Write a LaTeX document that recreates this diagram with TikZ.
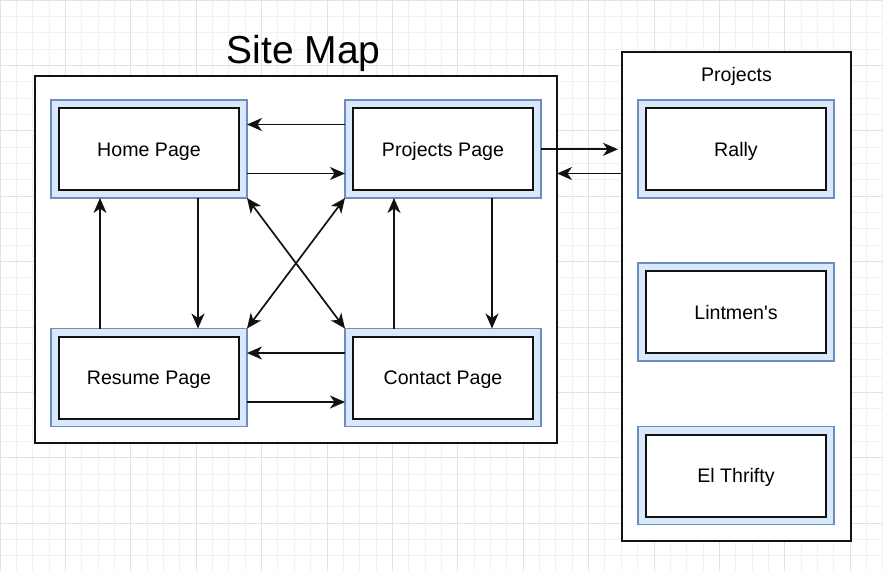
\documentclass[tikz,border=0pt]{standalone}
\usepackage{fontspec}
\setmainfont{Liberation Sans}[Ligatures=TeXOff]
\usetikzlibrary{arrows.meta,calc}
\definecolor{bfill}{HTML}{DAE8FC}
\definecolor{bdraw}{HTML}{6C8EBF}
\definecolor{gminor}{HTML}{F1F1F1}
\definecolor{gmajor}{HTML}{E2E2E2}
\definecolor{ink}{HTML}{111111}
\begin{document}
\begin{tikzpicture}[x=1pt,y=-1pt,
  >={Stealth[length=15pt,width=13pt,inset=4.5pt]},
  frame/.style={draw=bdraw, fill=bfill, line width=1.6pt, minimum width=196pt, minimum height=98pt, inner sep=0pt, outer sep=0pt},
  pagebox/.style={draw=ink, fill=white, line width=2pt, minimum width=180pt, minimum height=82pt, inner sep=0pt, outer sep=0pt, text height=14.1pt, text depth=0pt, font=\fontsize{19.6}{23}\selectfont},
  container/.style={draw=ink, fill=white, line width=2pt, inner sep=0pt, outer sep=0pt},
  conn/.style={draw=ink, line width=1.7pt, ->},
  bconn/.style={draw=ink, line width=1.7pt, <->},
]
\useasboundingbox (0,0) rectangle (883,571);
% background grid
\foreach \i in {0,...,54} {\draw[gminor, line width=1pt] (\i*16.35,0) -- (\i*16.35,571);}
\foreach \j in {0,...,35} {\draw[gminor, line width=1pt] (0,\j*16.35) -- (883,\j*16.35);}
\foreach \i in {0,...,13} {\draw[gmajor, line width=1pt] (\i*65.4,0) -- (\i*65.4,571);}
\foreach \j in {0,...,8} {\draw[gmajor, line width=1pt] (0,\j*65.4) -- (883,\j*65.4);}

% containers
\node[container, minimum width=522pt, minimum height=367pt] (site) at (296,259.5) {};
\node[container, minimum width=229pt, minimum height=489pt] (grp) at (736.5,296.5) {};
\node[font=\fontsize{39}{45}\selectfont, anchor=base, inner sep=0pt] (title) at (303.5,63.5) {Site Map};
\node[font=\fontsize{19.6}{23}\selectfont, anchor=base, inner sep=0pt] (plabel) at (736.5,81) {Projects};

% pages
\node[frame] (home) at (149,149) {};
\node[pagebox] (homet) at (home) {Home Page};
\node[frame] (proj) at (443,149) {};
\node[pagebox] (projt) at (proj) {Projects Page};
\node[frame] (resume) at (149,377.5) {};
\node[pagebox] (resumet) at (resume) {Resume Page};
\node[frame] (contact) at (443,377.5) {};
\node[pagebox] (contactt) at (contact) {Contact Page};

% projects
\node[frame] (rally) at (736,149) {};
\node[pagebox] (rallyt) at (rally) {Rally};
\node[frame] (lint) at (736,312) {};
\node[pagebox] (lintt) at (lint) {Lintmen's};
\node[frame] (thrifty) at (736,475.5) {};
\node[pagebox] (thriftyt) at (thrifty) {El Thrifty};

% connectors
\draw[conn] ($(proj.north west)!0.25!(proj.south west)$) -- ($(home.north east)!0.25!(home.south east)$);
\draw[conn] ($(home.north east)!0.75!(home.south east)$) -- ($(proj.north west)!0.75!(proj.south west)$);
\draw[conn] ($(contact.north west)!0.25!(contact.south west)$) -- ($(resume.north east)!0.25!(resume.south east)$);
\draw[conn] ($(resume.north east)!0.75!(resume.south east)$) -- ($(contact.north west)!0.75!(contact.south west)$);
\draw[conn] ($(resume.north west)!0.25!(resume.north east)$) -- ($(home.south west)!0.25!(home.south east)$);
\draw[conn] ($(home.south west)!0.75!(home.south east)$) -- ($(resume.north west)!0.75!(resume.north east)$);
\draw[conn] ($(contact.north west)!0.25!(contact.north east)$) -- ($(proj.south west)!0.25!(proj.south east)$);
\draw[conn] ($(proj.south west)!0.75!(proj.south east)$) -- ($(contact.north west)!0.75!(contact.north east)$);
\draw[bconn] (home.south east) -- (contact.north west);
\draw[bconn] (proj.south west) -- (resume.north east);
\coordinate (pout) at ($(proj.east)+(0,0.3)$);
\draw[conn] (pout) -- ($(grp.west |- pout)+(-4,0)$);
\coordinate (pin) at ($(proj.north east)!0.75!(proj.south east)$);
\draw[conn] (grp.west |- pin) -- (site.east |- pin);
\end{tikzpicture}
\end{document}
